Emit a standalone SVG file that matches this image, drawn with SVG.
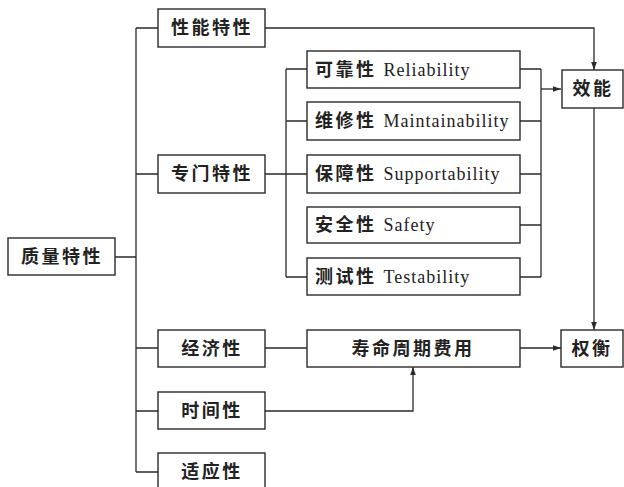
<svg xmlns="http://www.w3.org/2000/svg" width="624" height="487" viewBox="0 0 624 487">
<style>
.b{fill:#fff;stroke:#2a2a2a;stroke-width:1.4}
.t{font-family:"Liberation Serif","Noto Sans CJK SC",serif;font-size:18px;fill:#222;font-weight:bold;letter-spacing:2.5px}
.e{font-weight:normal;font-size:18px;letter-spacing:1px}
.c{text-anchor:middle}
.l{fill:none;stroke:#2a2a2a;stroke-width:1.3}
</style>
<defs>
<marker id="a" viewBox="0 0 10 10" refX="10" refY="5" markerWidth="8" markerHeight="8" orient="auto" markerUnits="userSpaceOnUse">
<path d="M0,1.5 L10,5 L0,8.5 Z" fill="#2a2a2a"/>
</marker>
</defs>
<rect width="624" height="487" fill="#fff"/>
<g id="connectors">
<path class="l" d="M115,257 H136 M136,28 V472 M136,28 H158 M136,174 H158 M136,348 H158 M136,411 H158 M136,472 H158"/>
<path class="l" d="M265,174 H307 M286,69 V277 M286,69 H307 M286,121 H307 M286,277 H307"/>
<path class="l" d="M520,69 H541 M520,121 H541 M520,174 H541 M520,225 H541 M520,277 H541 M541,69 V277"/>
<path class="l" d="M541,89 H561" marker-end="url(#a)"/>
<path class="l" d="M265,28 H594 V70" marker-end="url(#a)"/>
<path class="l" d="M594,108 V330" marker-end="url(#a)"/>
<path class="l" d="M265,348 H307"/>
<path class="l" d="M520,348 H561" marker-end="url(#a)"/>
<path class="l" d="M265,411 H413 V367" marker-end="url(#a)"/>
</g>
<g id="n_quality"><rect class="b" x="8" y="238" width="107" height="37"/><text class="t c" x="62" y="263">质量特性</text></g>
<g id="n_perf"><rect class="b" x="158" y="9" width="107" height="38"/><text class="t c" x="212" y="34">性能特性</text></g>
<g id="n_special"><rect class="b" x="158" y="155" width="107" height="38"/><text class="t c" x="212" y="180">专门特性</text></g>
<g id="n_econ"><rect class="b" x="158" y="330" width="107" height="37"/><text class="t c" x="212" y="355">经济性</text></g>
<g id="n_time"><rect class="b" x="158" y="392" width="107" height="37"/><text class="t c" x="212" y="417">时间性</text></g>
<g id="n_adapt"><rect class="b" x="158" y="453" width="107" height="40"/><text class="t c" x="212" y="478">适应性</text></g>
<g id="n_rel"><rect class="b" x="307" y="51" width="213" height="37"/><text class="t" x="315" y="76">可靠性 <tspan class="e">Reliability</tspan></text></g>
<g id="n_main"><rect class="b" x="307" y="102" width="213" height="38"/><text class="t" x="315" y="127">维修性 <tspan class="e">Maintainability</tspan></text></g>
<g id="n_sup"><rect class="b" x="307" y="155" width="213" height="38"/><text class="t" x="315" y="180">保障性 <tspan class="e">Supportability</tspan></text></g>
<g id="n_safe"><rect class="b" x="307" y="207" width="213" height="36"/><text class="t" x="315" y="231">安全性 <tspan class="e">Safety</tspan></text></g>
<g id="n_test"><rect class="b" x="307" y="258" width="213" height="37"/><text class="t" x="315" y="283">测试性 <tspan class="e">Testability</tspan></text></g>
<g id="n_lcc"><rect class="b" x="307" y="330" width="213" height="37"/><text class="t c" x="413" y="355">寿命周期费用</text></g>
<g id="n_eff"><rect class="b" x="562" y="70" width="61" height="38"/><text class="t c" x="593" y="95">效能</text></g>
<g id="n_trade"><rect class="b" x="561" y="330" width="62" height="37"/><text class="t c" x="592" y="355">权衡</text></g>
</svg>
